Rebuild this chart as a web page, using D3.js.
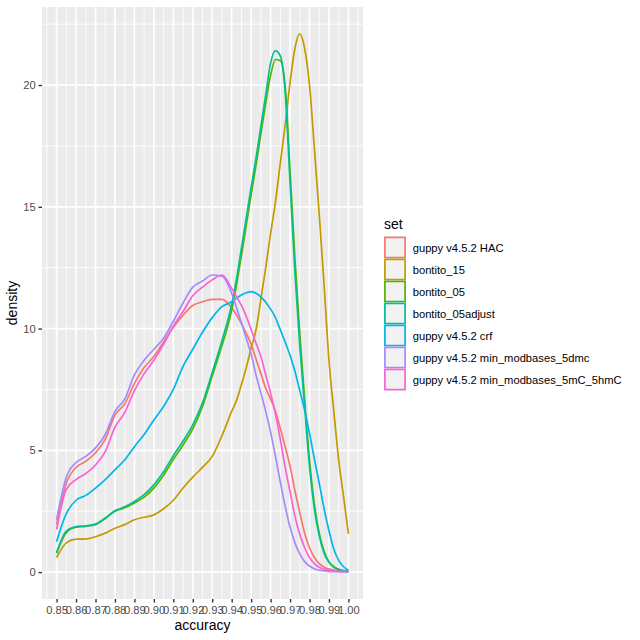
<!DOCTYPE html>
<html>
<head>
<meta charset="utf-8">
<script src="https://cdn.jsdelivr.net/npm/d3@7"></script>
<style>
  body { margin: 0; background: #fff; }
  text { font-family: "Liberation Sans", Arial, sans-serif; }
</style>
</head>
<body>
<svg id="chart" width="640" height="640"></svg>
<script>
// accuracy grid the densities were read at
const accuracy = [0.85, 0.855, 0.86, 0.865, 0.87, 0.875, 0.88, 0.885, 0.89, 0.895,
    0.90, 0.905, 0.91, 0.915, 0.92, 0.925, 0.93, 0.935, 0.94,
    0.9425, 0.945, 0.9475, 0.95, 0.9525, 0.955, 0.9575, 0.96, 0.9625, 0.965, 0.9675,
    0.97, 0.9725, 0.975, 0.9775, 0.98, 0.9825, 0.985, 0.9875, 0.99, 0.9925, 0.995, 0.9975, 1.00];

const setNames = ['guppy v4.5.2 HAC', 'bontito_15', 'bontito_05', 'bontito_05adjust',
    'guppy v4.5.2 crf', 'guppy v4.5.2 min_modbases_5dmc', 'guppy v4.5.2 min_modbases_5mC_5hmC'];
const setColors = ['#F8766D', '#C49A00', '#53B400', '#00C094', '#00B6EB', '#A58AFF', '#FB61D7'];

const densHAC = [1.95, 3.65, 4.3, 4.55, 4.9, 5.45, 6.45, 6.9, 7.75, 8.4,
    8.85, 9.45, 10.05, 10.55, 10.95, 11.1, 11.2, 11.2, 10.85,
    10.55, 10.2, 9.8, 9.35, 8.75, 8.15, 7.55, 7.1, 6.6, 5.9, 5.15,
    4.35, 3.35, 2.45, 1.6, 1.0, 0.6, 0.35, 0.2, 0.12, 0.08, 0.05, 0.04, 0.03];
const densBontito15 = [0.6, 1.2, 1.35, 1.36, 1.45, 1.6, 1.8, 1.95, 2.15, 2.25,
    2.35, 2.6, 2.95, 3.45, 3.9, 4.3, 4.75, 5.6, 6.6,
    7.05, 7.7, 8.4, 9.2, 9.95, 11.2, 12.5, 13.9, 15.2, 16.8, 18.35,
    20.1, 21.5, 22.1, 21.5, 20.0, 17.4, 14.7, 11.8, 8.7, 6.6, 4.6, 3.1, 1.57];
const densBontito05 = [0.78, 1.62, 1.84, 1.88, 1.95, 2.2, 2.5, 2.64, 2.84, 3.08,
    3.45, 3.98, 4.62, 5.22, 5.88, 6.8, 8.05, 9.3, 10.75,
    11.8, 13.0, 14.25, 15.5, 16.7, 18.0, 19.25, 20.4, 21.05, 21.0, 19.95,
    16.5, 12.9, 9.8, 7.1, 4.6, 2.8, 1.6, 0.85, 0.42, 0.22, 0.11, 0.06, 0.03];
const densBontito05adjust = [0.8, 1.68, 1.87, 1.9, 1.97, 2.22, 2.52, 2.68, 2.9, 3.18,
    3.58, 4.12, 4.78, 5.38, 6.05, 6.95, 8.2, 9.5, 11.0,
    12.05, 13.3, 14.55, 15.8, 17.0, 18.3, 19.6, 20.9, 21.4, 21.2, 19.7,
    16.0, 12.3, 9.3, 6.8, 4.35, 2.6, 1.5, 0.78, 0.4, 0.2, 0.1, 0.05, 0.03];
const densCrf = [1.25, 2.4, 2.95, 3.15, 3.45, 3.8, 4.2, 4.6, 5.15, 5.65,
    6.25, 6.8, 7.5, 8.45, 9.15, 9.85, 10.45, 10.9, 11.1,
    11.25, 11.38, 11.47, 11.52, 11.45, 11.3, 11.08, 10.8, 10.45, 9.95, 9.45,
    8.9, 8.25, 7.45, 6.65, 5.7, 4.65, 3.65, 2.6, 1.7, 0.95, 0.48, 0.22, 0.08];
const dens5dmc = [2.15, 3.9, 4.5, 4.75, 5.1, 5.65, 6.6, 7.1, 8.1, 8.7,
    9.15, 9.6, 10.3, 11.05, 11.7, 11.95, 12.2, 12.15, 11.45,
    10.85, 10.25, 9.6, 8.95, 8.1, 7.35, 6.6, 5.75, 4.75, 3.7, 2.7,
    1.85, 1.2, 0.75, 0.43, 0.25, 0.14, 0.08, 0.05, 0.03, 0.02, 0.015, 0.01, 0.01];
const dens5mC5hmC = [1.75, 3.4, 3.8, 4.05, 4.4, 4.95, 5.95, 6.55, 7.45, 8.15,
    8.7, 9.35, 10.1, 10.7, 11.35, 11.7, 12.0, 12.2, 11.65,
    11.3, 10.95, 10.5, 9.95, 9.4, 8.85, 8.1, 7.35, 6.5, 5.45, 4.3,
    3.3, 2.3, 1.55, 1.0, 0.6, 0.35, 0.2, 0.11, 0.07, 0.04, 0.03, 0.02, 0.02];

const xTicks = [0.85, 0.86, 0.87, 0.88, 0.89, 0.90, 0.91, 0.92, 0.93, 0.94, 0.95, 0.96, 0.97, 0.98, 0.99, 1.00];
const yTicks = [0, 5, 10, 15, 20];

const seriesList = [densHAC, densBontito15, densBontito05, densBontito05adjust, densCrf, dens5dmc, dens5mC5hmC];

const svg = d3.select('#chart');
const panel = {left: 42, right: 363, top: 7, bottom: 599};

// ggplot-like 5% expansion on both axes
let xMin = d3.min(accuracy), xMax = d3.max(accuracy);
let xPad = (xMax - xMin) * 0.05;
let x = d3.scaleLinear().domain([xMin - xPad, xMax + xPad]).range([panel.left, panel.right]);
let yMax = d3.max(seriesList.map(s => d3.max(s)));
let y = d3.scaleLinear().domain([-0.05 * yMax, 1.05 * yMax]).range([panel.bottom, panel.top]);

svg.append('rect')
    .attr('x', panel.left).attr('y', panel.top)
    .attr('width', panel.right - panel.left).attr('height', panel.bottom - panel.top)
    .attr('fill', '#EBEBEB');

// minor grid
let xMinor = xTicks.map(t => t - 0.005).concat([xTicks[xTicks.length - 1] + 0.005])
    .filter(t => t >= x.domain()[0] && t <= x.domain()[1]);
let yMinor = yTicks.map(t => t - 2.5).concat([yTicks[yTicks.length - 1] + 2.5])
    .filter(t => t >= y.domain()[0] && t <= y.domain()[1]);

let grid = svg.append('g');
grid.selectAll('.xminor').data(xMinor).enter().append('line')
    .attr('x1', d => x(d)).attr('x2', d => x(d))
    .attr('y1', panel.top).attr('y2', panel.bottom)
    .attr('stroke', '#fff').attr('stroke-width', 0.85);
grid.selectAll('.yminor').data(yMinor).enter().append('line')
    .attr('y1', d => y(d)).attr('y2', d => y(d))
    .attr('x1', panel.left).attr('x2', panel.right)
    .attr('stroke', '#fff').attr('stroke-width', 0.85);
grid.selectAll('.xmajor').data(xTicks).enter().append('line')
    .attr('x1', d => x(d)).attr('x2', d => x(d))
    .attr('y1', panel.top).attr('y2', panel.bottom)
    .attr('stroke', '#fff').attr('stroke-width', 1.7);
grid.selectAll('.ymajor').data(yTicks).enter().append('line')
    .attr('y1', d => y(d)).attr('y2', d => y(d))
    .attr('x1', panel.left).attr('x2', panel.right)
    .attr('stroke', '#fff').attr('stroke-width', 1.7);

// density curves, drawn in legend order
let line = d3.line()
    .x((d, i) => x(accuracy[i]))
    .y(d => y(d))
    .curve(d3.curveMonotoneX);

svg.append('g').selectAll('path')
    .data(seriesList)
    .enter().append('path')
    .attr('d', d => line(d))
    .attr('fill', 'none')
    .attr('stroke', (d, i) => setColors[i])
    .attr('stroke-width', 1.7);

// axes
let xAxis = d3.axisBottom(x).tickValues(xTicks).tickFormat(d3.format('.2f')).tickSize(3.5).tickPadding(2.8);
let gx = svg.append('g').attr('transform', 'translate(0,' + panel.bottom + ')').call(xAxis);
let yAxis = d3.axisLeft(y).tickValues(yTicks).tickFormat(d3.format('d')).tickSize(3.5).tickPadding(2.8);
let gy = svg.append('g').attr('transform', 'translate(' + panel.left + ',0)').call(yAxis);

[gx, gy].forEach(g => {
    g.select('.domain').remove();
    g.selectAll('.tick line').attr('stroke', '#333333').attr('stroke-width', 1.4);
    g.selectAll('.tick text')
        .attr('fill', '#4D4D4D')
        .style('font-size', '11.2px')
        .style('font-family', '"Liberation Sans", Arial, sans-serif');
});
gx.selectAll('.tick text').attr('dy', null).attr('y', 15);

svg.append('text')
    .attr('x', (panel.left + panel.right) / 2).attr('y', 630)
    .attr('text-anchor', 'middle')
    .style('font-size', '14px')
    .text('accuracy');

svg.append('text')
    .attr('transform', 'translate(16.5,' + (panel.top + panel.bottom) / 2 + ') rotate(-90)')
    .attr('text-anchor', 'middle')
    .style('font-size', '14px')
    .text('density');

// legend
let legend = svg.append('g').attr('transform', 'translate(384,0)');
legend.append('text')
    .attr('x', 0).attr('y', 229)
    .style('font-size', '14px')
    .text('set');

let keySize = 22, keyTop = 236.5;
let keys = legend.selectAll('.key').data(setNames).enter().append('g')
    .attr('transform', (d, i) => 'translate(0,' + (keyTop + i * keySize) + ')');
keys.append('rect')
    .attr('width', keySize).attr('height', keySize)
    .attr('fill', '#F2F2F2');
keys.append('rect')
    .attr('x', 0.9).attr('y', 0.9)
    .attr('width', keySize - 1.8).attr('height', keySize - 1.8)
    .attr('fill', 'none')
    .attr('stroke', (d, i) => setColors[i])
    .attr('stroke-width', 1.7);
keys.append('text')
    .attr('x', keySize + 6.7).attr('y', keySize / 2 + 4.2)
    .style('font-size', '11.2px')
    .text(d => d);
</script>
</body>
</html>
